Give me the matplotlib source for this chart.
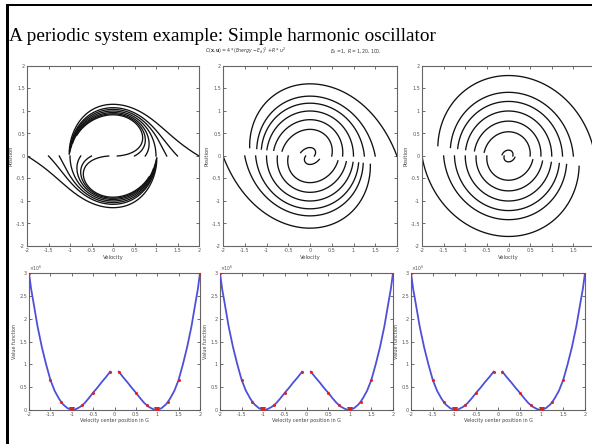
import numpy as np
import matplotlib.pyplot as plt
from matplotlib.patches import Rectangle
from matplotlib.ticker import FormatStrFormatter

# starting velocities of the runs (position starts at 0); also the red dots below
start_vel = [-2, -1.5, -1.25, -1, -0.75, -0.5, -0.1, 0.1, 0.5, 0.75, 1, 1.25, 1.5, 2]
R_values = [1, 20, 100]
# effective energy pumping gain / exponent for each R, judged from the spirals
gains = [1.25, 0.2, 0.085]
pump_exp = [0.45, 0.7, 0.7]
run_time = 3.0

# value function along the start line (lower plots)
vf_left_x = [-2.0, -1.95, -1.9, -1.8, -1.7, -1.6, -1.5, -1.4, -1.3, -1.25, -1.2, -1.1,
             -1.0, -0.9, -0.8, -0.75, -0.7, -0.6, -0.5, -0.4, -0.3, -0.2, -0.1]
vf_left_y = [3.0, 2.65, 2.38, 1.83, 1.38, 1.0, 0.66, 0.42, 0.25, 0.18, 0.12, 0.04,
             0.0, 0.02, 0.07, 0.11, 0.15, 0.26, 0.38, 0.49, 0.61, 0.72, 0.84]
vf_right_x = [0.1, 0.2, 0.3, 0.4, 0.5, 0.6, 0.7, 0.75, 0.8, 0.9, 1.0, 1.1, 1.2, 1.25,
              1.3, 1.4, 1.5, 1.6, 1.7, 1.8, 1.9, 1.95, 2.0]
vf_right_y = [0.84, 0.72, 0.61, 0.49, 0.38, 0.26, 0.15, 0.11, 0.07, 0.02, 0.0, 0.04,
              0.12, 0.18, 0.25, 0.42, 0.66, 1.0, 1.38, 1.83, 2.38, 2.65, 3.0]
dot_y = [3.0, 0.66, 0.18, 0.0, 0.11, 0.38, 0.84, 0.84, 0.38, 0.11, 0.0, 0.18, 0.66, 3.0]

ticks = [-2, -1.5, -1, -0.5, 0, 0.5, 1, 1.5, 2]
vf_ticks = [0, 0.5, 1, 1.5, 2, 2.5, 3]


def simulate(v0, k, a, t_end=run_time, dt=0.004):
    # oscillator with an energy pumping control, state = (velocity, position)
    def f(s):
        v, p = s
        e = v * v + p * p
        u = -k * (e - 1) * v * e ** (a - 1)
        return np.array([-p + u, v])
    s = np.array([v0, 0.0])
    out = [s]
    for _ in range(int(t_end / dt)):
        k1 = f(s)
        k2 = f(s + dt / 2 * k1)
        k3 = f(s + dt / 2 * k2)
        k4 = f(s + dt * k3)
        s = s + dt / 6 * (k1 + 2 * k2 + 2 * k3 + k4)
        out.append(s)
    return np.array(out)


def style(ax):
    for sp in ax.spines.values():
        sp.set_color('#666666')
        sp.set_linewidth(0.8)
    ax.tick_params(direction='in', length=2.5, width=0.6, labelsize=3.5,
                   colors='#555555', top=True, right=True, pad=1.5)
    ax.xaxis.set_major_formatter(FormatStrFormatter('%g'))
    ax.yaxis.set_major_formatter(FormatStrFormatter('%g'))


W, H = 592, 444
fig = plt.figure(figsize=(W / 100, H / 100), dpi=100)

# slide frame
fig.add_artist(Rectangle((6 / W, 0), 3 / W, 1 - 4 / H, transform=fig.transFigure,
                         color='black', lw=0))
fig.add_artist(Rectangle((6 / W, 1 - 6.5 / H), 1, 2.5 / H, transform=fig.transFigure,
                         color='black', lw=0))

fig.text(9 / W, 1 - 41 / H, 'A periodic system example: Simple harmonic oscillator',
         family='Liberation Serif', fontsize=13.9, va='baseline')
fig.text(205 / W, 1 - 53 / H, r'$C(\mathbf{x},\mathbf{u}) = 4*(Energy - E_d)^2 + R*u^2$',
         fontsize=3.3, va='baseline', color='#333333')
fig.text(330 / W, 1 - 53 / H, r'$E_d = 1,\ R = 1, 20, 100.$',
         fontsize=3.3, va='baseline', color='#333333')

top_left = [27, 223, 422]
top_width = [172, 174, 173]
bot_left = [29, 220, 411]
bot_width = [171, 173, 174]

for i, k in enumerate(gains):
    ax = fig.add_axes([top_left[i] / W, (H - 246) / H, top_width[i] / W, 180 / H])
    for v0 in start_vel:
        tr = simulate(v0, k, pump_exp[i])
        ax.plot(tr[:, 0], tr[:, 1], color='#111111', lw=0.95)
    ax.set_xlim(-2, 2)
    ax.set_ylim(-2, 2)
    ax.set_xticks(ticks)
    ax.set_yticks(ticks)
    style(ax)
    if i == 2:
        # the right panel runs off the slide edge, its last label is not visible
        ax.set_xticklabels(['-2', '-1.5', '-1', '-0.5', '0', '0.5', '1', '1.5', ''])
    ax.set_xlabel('Velocity', fontsize=3.8, labelpad=1.5, color='#444444')
    ax.set_ylabel('Position', fontsize=3.8, labelpad=1.5, color='#444444')

    bx = fig.add_axes([bot_left[i] / W, (H - 410) / H, bot_width[i] / W, 137 / H])
    bx.plot(vf_left_x, vf_left_y, color='#4f4fd9', lw=1.3)
    bx.plot(vf_right_x, vf_right_y, color='#4f4fd9', lw=1.3)
    bx.plot(start_vel, dot_y, ls='none', marker='o', ms=2.2, color='#dd2222', mew=0)
    bx.plot([-1, 1], [0, 0], ls='none', marker='v', ms=4, color='#dd2222', mew=0)
    bx.set_xlim(-2, 2)
    bx.set_ylim(0, 3)
    bx.set_xticks(ticks)
    bx.set_yticks(vf_ticks)
    bx.set_yticklabels(['0', '0.5', '1', '1.5', '2', '2.5', ''])
    style(bx)
    for sp in bx.spines.values():
        sp.set_zorder(0)
    bx.text(0.0, 1.0, r'$\times10^{6}$', transform=bx.transAxes, fontsize=3.3,
            color='#555555', va='bottom', ha='left')
    bx.set_xlabel('Velocity center position in G', fontsize=3.5, labelpad=1, color='#444444')
    bx.set_ylabel('Value function', fontsize=3.5, labelpad=1.5, color='#444444')

fig.savefig('out.png', dpi=100)
